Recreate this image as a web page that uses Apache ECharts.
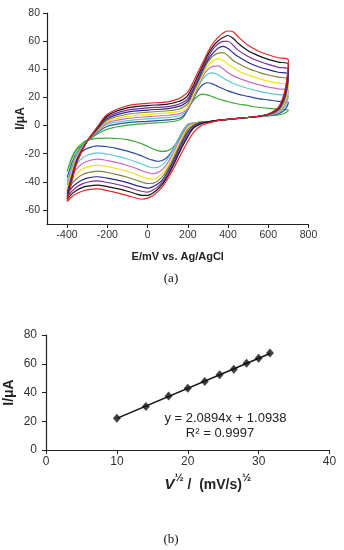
<!DOCTYPE html>
<html><head><meta charset="utf-8">
<script src="https://cdn.jsdelivr.net/npm/echarts@6.0.0/dist/echarts.min.js"></script>
<style>html,body{margin:0;padding:0;background:#fff}#c{width:344px;height:550px}</style>
</head><body><div id="c"></div>
<script>
// Potential (mV) along the sweep: forward -400 -> 700, then reverse 700 -> -400
const potential = [-400,-375,-350,-300,-250,-200,-100,0,100,150,175,200,225,250,275,300,325,350,375,400,425,450,500,550,600,650,700,
  690,675,650,600,550,500,450,400,350,300,275,250,225,200,175,150,125,100,75,50,25,0,-25,-50,-100,-150,-200,-250,-300,-325,-350,-375,-400];

// Currents (uA) for each scan rate
const iGreen = [-32.5,-23,-17,-11,-6,-2.5,0.3,1.5,2.5,3.6,5.5,11.5,17.3,21,22.3,21.6,20.4,19.0,17.9,16.9,16.1,15.3,14.2,13.0,12.2,11.6,11,
  9.4,8.4,7.6,6.8,6.3,5.7,5.1,4.4,3.6,2.6,2.4,2.2,1.5,-0.3,-5.5,-11.2,-15.7,-17.8,-18.4,-17.8,-16.5,-14.8,-13.2,-12,-10,-9.2,-9,-9.1,-10.5,-12.5,-16,-22,-32.5];
const iBlue = [-37,-26,-19,-11,-5,-0.5,2,3,4,4.8,6.3,11.2,18.2,25,29.1,30.4,29.4,27.8,26.1,24.6,23.4,22.3,20.7,19.1,18.2,17.2,16.5,
  12.7,10.3,8.4,7.0,6.3,5.7,5.1,4.4,3.6,2.6,2.4,2.1,1.8,0.7,-3.9,-10.5,-17.2,-22.2,-24.7,-25.4,-24.6,-23.4,-21.8,-20.5,-18.2,-16.4,-15.1,-14.4,-16.2,-18.5,-22.3,-28,-37];
const iCyan = [-40,-28,-20,-11,-4.5,1,3.5,4.8,5.8,6.6,7.9,11.9,19.1,27,33.2,36.7,37.4,36.1,33.8,31.8,30.1,28.6,26.3,24.5,23.0,22,21,
  15.4,11.9,9.1,7.2,6.3,5.7,5.1,4.4,3.6,2.6,2.4,2.1,1.7,0.5,-3.9,-10.5,-17.6,-23.8,-27.8,-29.8,-30.0,-29.0,-27.6,-26.2,-23.8,-21.9,-20.4,-19.5,-21.1,-23.2,-26.7,-31.8,-40];
const iPink = [-42.5,-30,-21,-11,-4,2,5,6.3,7.3,8.1,9.2,12,19.4,27.4,35.1,40,42.1,42.4,40.3,37.6,35.5,33.9,31.2,29.1,27.3,26.1,25,
  17.8,13.3,9.7,7.3,6.4,5.7,5.1,4.4,3.6,2.6,2.4,2.0,1.6,-0.5,-5.8,-12.8,-20.1,-26.5,-31,-33.5,-34.2,-33.5,-32.3,-30.8,-28.4,-26.4,-24.9,-23.9,-25.4,-27.2,-30.4,-35.1,-42.5];
const iYellow = [-45,-32,-22,-11,-3.5,3,6.5,8,9,9.9,11,13.7,20.5,28.5,36.5,42.6,46,47.5,46.2,43.6,41.2,39,35.8,33.6,31.6,30.1,29,
  20.2,14.7,10.3,7.5,6.4,5.7,5.1,4.4,3.6,2.6,2.4,2.0,1.1,-1.4,-7.7,-14.9,-22.4,-29,-33.9,-36.8,-38.2,-37.7,-36.6,-35.1,-32.7,-30.7,-29.2,-28.1,-29.5,-31.1,-34,-38.2,-45];
const iOlive = [-47,-34,-23,-11,-3,4,8,9.5,10.5,11.4,12.9,15.5,22.6,30.4,38.3,45.3,49.4,51.5,51.9,49.6,46.3,44.2,40.5,38,35.9,34.4,33,
  22.6,16.1,10.9,7.6,6.5,5.7,5.1,4.4,3.6,2.6,2.4,1.9,0.2,-2.8,-9.2,-16.6,-24.1,-30.8,-36.2,-39.4,-41.1,-41.2,-40.3,-39.1,-36.8,-34.9,-33.4,-32.4,-33.6,-35,-37.5,-41.2,-47];
const iNavy = [-49,-35.5,-24,-11,-2.5,5,9.5,11,12,13.4,14.7,17.3,24.3,31.8,40.1,46.7,51.5,55,56.3,54.7,51.7,49,44.8,41.8,39.7,37.9,36.5,
  24.7,17.3,11.4,7.8,6.5,5.7,5.1,4.4,3.6,2.6,2.3,1.4,-0.6,-4.5,-10.9,-18.4,-25.9,-32.7,-38.4,-41.6,-43.6,-44.5,-43.8,-42.9,-40.6,-38.8,-37.4,-36.4,-37.4,-38.7,-40.8,-44,-49];
const iPurple = [-51,-37,-25,-11,-2,6,11,12.5,13.5,14.9,16.3,19.1,25.6,33.4,40.9,48.3,54.3,58,59.8,59.9,57.1,53.6,49.1,45.9,43.5,41.4,40,
  26.8,18.6,12,7.9,6.6,5.8,5.1,4.4,3.6,2.6,2.0,1.0,-1.5,-6.2,-12.7,-20.1,-27.5,-34.4,-40.1,-43.6,-46,-47.4,-46.9,-46,-43.8,-41.9,-40.5,-39.4,-40.3,-41.5,-43.5,-46.4,-51];
const iBlack = [-52.5,-38,-25.5,-11,-1.5,7,12.5,14.2,15.2,16.9,18.4,21.5,27.8,35.5,42.8,50.5,56.3,60.1,62.6,64,62,58.5,53.1,49.7,47,45.1,43.5,
  28.9,19.8,12.5,8.1,6.6,5.8,5.1,4.4,3.6,2.5,1.6,0.1,-2.3,-7.9,-14.4,-21.7,-29.1,-36,-41.5,-45.3,-48.2,-49.7,-49.7,-48.9,-46.7,-44.9,-43.4,-42.3,-43.1,-44.1,-45.9,-48.4,-52.5];
const iRed = [-54,-39,-26,-11,-1,8,14,15.8,16.8,18.8,20.8,23.8,30.4,37.9,44.9,52.4,58.5,62.5,65.7,67.2,66.7,63.1,57,53,50.3,48.2,46.5,
  30.7,20.8,12.9,8.2,6.6,5.8,5.1,4.4,3.6,1.6,0.6,-1.7,-5.5,-11.3,-17.9,-24.75,-31.6,-38,-43.2,-47,-50,-51.6,-52.4,-51.9,-49.8,-47.9,-46.3,-45.1,-45.8,-46.7,-48.2,-50.4,-54];

const cvCurves = [iGreen, iBlue, iCyan, iPink, iYellow, iOlive, iNavy, iPurple, iBlack, iRed];
const cvColors = ['#3bab34','#2d4ba3','#5ec8cc','#c86cc2','#f0e31c','#83833c','#2b2b8c','#7c2d8f','#151515','#e8282a'];

// Panel (b)
const sqrtRate = [10, 14.1, 17.3, 20, 22.4, 24.5, 26.5, 28.3, 30, 31.6];
const peakCurrent = [22.1, 30.2, 37.6, 43, 47.6, 52.3, 56.2, 60.4, 63.9, 67.4];
const fitX = [10, 31.6];
const fitY = [22.0, 67.1];

// Tick labels
const cvXTicks = [-400, -200, 0, 200, 400, 600, 800];
const cvYTicks = [-60, -40, -20, 0, 20, 40, 60, 80];

const FONT = '"Liberation Sans", Arial, sans-serif';
const chart = echarts.init(document.getElementById('c'), null, {renderer: 'canvas'});

const axisLine = {onZero: false, lineStyle: {color: '#222', width: 1.2}};
const cvSeries = cvCurves.map((cur, k) => ({
  type: 'line', xAxisIndex: 0, yAxisIndex: 0,
  data: potential.map((e, i) => [e, cur[i]]),
  showSymbol: false, smooth: 0.3,
  lineStyle: {color: cvColors[k], width: 1.2},
  silent: true
}));

chart.setOption({
  animation: false,
  backgroundColor: '#fff',
  grid: [
    {left: 47, top: 13, width: 261.5, height: 211, outerBoundsMode: 'none', containLabel: false},
    {left: 46, top: 335, width: 283.5, height: 115, outerBoundsMode: 'none', containLabel: false}
  ],
  xAxis: [
    {gridIndex: 0, type: 'value', min: -500, max: 800,
     axisLine: axisLine,
     axisTick: {customValues: cvXTicks, length: 4, lineStyle: {color: '#222'}},
     axisLabel: {customValues: cvXTicks, margin: 6, fontSize: 10.5, color: '#333', fontFamily: FONT},
     splitLine: {show: false},
     name: 'E/mV vs. Ag/AgCl', nameLocation: 'middle', nameGap: 27, nameMoveOverlap: false,
     nameTextStyle: {fontWeight: 'bold', fontSize: 11, color: '#222', fontFamily: FONT}},
    {gridIndex: 1, type: 'value', min: 0, max: 40, interval: 10,
     axisLine: axisLine,
     axisTick: {length: 4, lineStyle: {color: '#222'}},
     axisLabel: {margin: 6, fontSize: 12, color: '#333', fontFamily: FONT},
     splitLine: {show: false},
     name: '{vi|V}{sup|½}{n| /  (mV/s)}{sup|½}', nameLocation: 'middle', nameGap: 22, nameMoveOverlap: false,
     nameTextStyle: {padding: [0, 0, 0, 40], fontFamily: FONT,
       rich: {
         vi: {fontStyle: 'italic', fontWeight: 'bold', fontSize: 15, color: '#222', fontFamily: FONT, lineHeight: 20, verticalAlign: 'bottom'},
         n: {fontWeight: 'bold', fontSize: 14, color: '#222', fontFamily: FONT, lineHeight: 20, verticalAlign: 'bottom'},
         sup: {fontWeight: 'bold', fontSize: 11, color: '#222', fontFamily: FONT, lineHeight: 12, verticalAlign: 'top'}
       }}}
  ],
  yAxis: [
    {gridIndex: 0, type: 'value', min: -70, max: 80,
     axisLine: axisLine,
     axisTick: {customValues: cvYTicks, length: 4, lineStyle: {color: '#222'}},
     axisLabel: {customValues: cvYTicks, margin: 7, fontSize: 10.5, color: '#333', fontFamily: FONT},
     splitLine: {show: false},
     name: 'I/μA', nameLocation: 'middle', nameGap: 20, nameRotate: 90, nameMoveOverlap: false,
     nameTextStyle: {fontWeight: 'bold', fontSize: 12, color: '#222', fontFamily: FONT}},
    {gridIndex: 1, type: 'value', min: 0, max: 80, interval: 20,
     axisLine: axisLine,
     axisTick: {length: 4, lineStyle: {color: '#222'}},
     axisLabel: {margin: 9, fontSize: 12, color: '#333', fontFamily: FONT},
     splitLine: {show: false},
     name: 'I/μA', nameLocation: 'middle', nameGap: 30, nameRotate: 90, nameMoveOverlap: false,
     nameTextStyle: {fontWeight: 'bold', fontSize: 14, color: '#222', fontFamily: FONT}}
  ],
  series: cvSeries.concat([
    {type: 'line', xAxisIndex: 1, yAxisIndex: 1,
     data: fitX.map((x, i) => [x, fitY[i]]),
     showSymbol: false, lineStyle: {color: '#111', width: 1.5}, silent: true},
    {type: 'scatter', xAxisIndex: 1, yAxisIndex: 1,
     data: sqrtRate.map((x, i) => [x, peakCurrent[i]]),
     symbol: 'diamond', symbolSize: [8, 9], itemStyle: {color: '#111'}, silent: true}
  ]),
  graphic: [
    {type: 'text', x: 171, y: 279, style: {text: '(a)', font: '13px "Liberation Serif", "Times New Roman", serif', fill: '#111', align: 'center', verticalAlign: 'middle'}},
    {type: 'text', x: 171, y: 540, style: {text: '(b)', font: '13px "Liberation Serif", "Times New Roman", serif', fill: '#111', align: 'center', verticalAlign: 'middle'}},
    {type: 'text', x: 225.5, y: 418.5, style: {text: 'y = 2.0894x + 1.0938', font: '13px ' + FONT, fill: '#222', align: 'center', verticalAlign: 'middle'}},
    {type: 'text', x: 220, y: 433, style: {text: 'R² = 0.9997', font: '13px ' + FONT, fill: '#222', align: 'center', verticalAlign: 'middle'}}
  ]
});
</script>
</body></html>
